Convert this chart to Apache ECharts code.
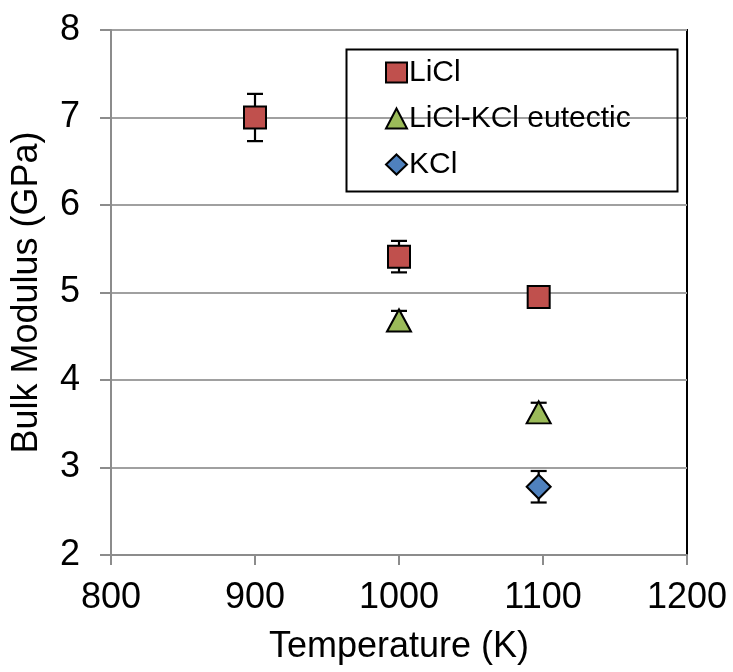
<!DOCTYPE html>
<html>
<head>
<meta charset="utf-8">
<script src="https://cdn.jsdelivr.net/npm/echarts@6/dist/echarts.min.js"></script>
<style>html,body{margin:0;padding:0;background:#fff}#c{width:733px;height:672px}</style>
</head>
<body>
<div id="c"></div>
<script>
const seriesNames = ['LiCl', 'LiCl-KCl eutectic', 'KCl'];
const tempsLiCl = [900, 1000, 1097];
const valsLiCl = [7.0, 5.41, 4.95];
const errLiCl = [0.27, 0.18, 0.05];
const tempsEut = [1000, 1097];
const valsEut = [4.68, 3.63];
const errEut = [0.11, 0.11];
const tempsKCl = [1097];
const valsKCl = [2.78];
const errKCl = [0.18];
const xTicks = [800, 900, 1000, 1100, 1200];
const yTicks = [2, 3, 4, 5, 6, 7, 8];

const FONT = '"Liberation Sans", Arial, sans-serif';
const colors = ['#C0504D', '#9BBB59', '#4F81BD'];
const symbols = ['rect', 'triangle', 'diamond'];
const sizes = [22, [24, 22], 24];

function pts(xs, ys) { return xs.map((x, i) => [x, ys[i]]); }
function errPts(xs, ys, es) { return xs.map((x, i) => [x, ys[i], es[i]]); }

const groups = [
  [tempsLiCl, valsLiCl, errLiCl],
  [tempsEut, valsEut, errEut],
  [tempsKCl, valsKCl, errKCl]
];

function renderErr(params, api) {
  const x = api.value(0), y = api.value(1), e = api.value(2);
  const t = api.coord([x, y + e]);
  const b = api.coord([x, y - e]);
  const hw = 8;
  const st = { stroke: '#000', lineWidth: 2.2 };
  return {
    type: 'group',
    children: [
      { type: 'line', shape: { x1: t[0], y1: t[1], x2: b[0], y2: b[1] }, style: st },
      { type: 'line', shape: { x1: t[0] - hw, y1: t[1], x2: t[0] + hw, y2: t[1] }, style: st },
      { type: 'line', shape: { x1: b[0] - hw, y1: b[1], x2: b[0] + hw, y2: b[1] }, style: st }
    ]
  };
}

const series = [];
groups.forEach((g, i) => {
  series.push({
    name: seriesNames[i] + ' err',
    type: 'custom',
    renderItem: renderErr,
    encode: { x: 0, y: 1 },
    data: errPts(g[0], g[1], g[2]),
    z: 2,
    silent: true
  });
});
groups.forEach((g, i) => {
  series.push({
    name: seriesNames[i],
    type: 'scatter',
    symbol: symbols[i],
    symbolSize: sizes[i],
    data: pts(g[0], g[1]),
    itemStyle: { color: colors[i], borderColor: '#000', borderWidth: 2, opacity: 1 },
    z: 5
  });
});

const chart = echarts.init(document.getElementById('c'));
chart.setOption({
  animation: false,
  backgroundColor: '#fff',
  textStyle: { fontFamily: FONT },
  grid: {
    left: 111, right: 46, top: 30, bottom: 117,
    show: true, borderColor: '#000', borderWidth: 2, backgroundColor: 'transparent'
  },
  xAxis: {
    type: 'value', min: xTicks[0], max: xTicks[xTicks.length - 1], interval: 100,
    name: 'Temperature (K)', nameLocation: 'middle', nameGap: 74,
    nameTextStyle: { fontSize: 36, color: '#000', fontFamily: FONT },
    axisLine: { show: true, lineStyle: { color: '#8c8c8c', width: 2 } },
    axisTick: { show: true, length: 10, lineStyle: { color: '#8c8c8c', width: 2 } },
    axisLabel: { fontSize: 36, color: '#000', margin: 25, fontFamily: FONT, formatter: v => String(v) },
    splitLine: { show: false }
  },
  yAxis: {
    type: 'value', min: yTicks[0], max: yTicks[yTicks.length - 1], interval: 1,
    name: 'Bulk Modulus (GPa)', nameLocation: 'middle', nameGap: 66,
    nameTextStyle: { fontSize: 36, color: '#000', fontFamily: FONT },
    axisLine: { show: true, lineStyle: { color: '#8c8c8c', width: 2 } },
    axisTick: { show: true, length: 11, lineStyle: { color: '#8c8c8c', width: 2 } },
    axisLabel: { fontSize: 36, color: '#000', margin: 31, fontFamily: FONT, formatter: v => String(v) },
    splitLine: { show: true, lineStyle: { color: '#a0a0a0', width: 2 } }
  },
  legend: {
    data: seriesNames,
    orient: 'vertical',
    left: 385, top: 57,
    padding: 0,
    itemWidth: 21, itemHeight: 20,
    itemGap: 15,
    textStyle: { fontSize: 30, color: '#000', fontFamily: FONT, lineHeight: 31, padding: [0, 0, 0, -3] }
  },
  graphic: [{
    type: 'rect', left: 344, top: 47, z: 10,
    shape: { width: 331, height: 142 },
    style: { fill: 'none', stroke: '#000', lineWidth: 2 }
  }],
  series: series
});
</script>
</body>
</html>
